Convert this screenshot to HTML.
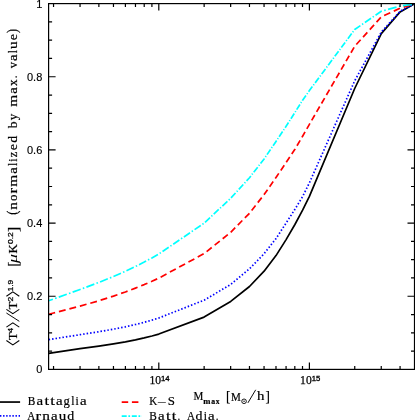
<!DOCTYPE html>
<html><head><meta charset="utf-8"><title>plot</title>
<style>
html,body{margin:0;padding:0;background:#fff;overflow:hidden}
body{width:415px;height:420px;font-family:"Liberation Sans",sans-serif}
svg{display:block;will-change:transform}
</style></head><body>
<svg width="415" height="420" viewBox="0 0 415 420">
<rect width="415" height="420" fill="#fff"/>
<clipPath id="c"><rect x="48.6" y="3.6" width="365.9" height="365.79999999999995"/></clipPath>
<g clip-path="url(#c)">
<path d="M48.60 353.37 L53.54 352.55 L80.05 348.66 L98.87 346.06 L113.46 343.87 L125.39 341.83 L135.47 339.85 L144.21 337.90 L151.91 335.97 L158.80 334.06 L204.10 317.10 L230.70 301.40 L249.50 286.50 L264.10 271.20 L276.00 255.60 L286.10 239.60 L294.90 224.50 L302.60 210.20 L309.40 196.30 L354.70 88.50 L381.30 33.60 L400.10 11.90 L414.50 3.80" fill="none" stroke="#000" stroke-width="1.7" stroke-linejoin="round"/>
<path d="M48.60 339.67 L53.54 338.84 L80.05 334.69 L98.87 331.73 L113.46 329.17 L125.39 326.80 L135.47 324.53 L144.21 322.31 L151.91 320.14 L158.80 318.01 L204.10 300.20 L230.70 284.50 L249.50 268.80 L264.10 253.70 L276.00 238.60 L286.10 223.00 L294.90 209.30 L302.60 196.60 L309.40 182.80 L354.70 80.80 L381.30 32.10 L400.10 11.30 L414.50 3.80" fill="none" stroke="#0000ff" stroke-width="1.7" stroke-linejoin="round" stroke-dasharray="1.5 2.0" stroke-dashoffset="0"/>
<path d="M48.60 314.21 L53.54 313.00 L55.11 312.60 M58.92 311.61 L65.60 309.89 M69.41 308.90 L76.09 307.18 M79.90 306.20 L80.05 306.16 L86.52 304.30 M90.30 303.21 L96.91 301.31 M100.66 300.17 L107.20 298.09 M110.94 296.90 L113.46 296.09 L117.43 294.71 M121.12 293.42 L125.39 291.93 L127.56 291.11 M131.20 289.74 L135.47 288.12 L137.56 287.28 M141.17 285.82 L144.21 284.59 L147.44 283.19 M151.00 281.66 L151.91 281.27 L157.18 278.87 M160.62 277.15 L166.53 273.95 M169.90 272.12 L175.80 268.93 M179.18 267.10 L185.08 263.90 M188.45 262.07 L194.36 258.88 M197.73 257.05 L203.64 253.85 M206.62 251.58 L211.73 247.49 M214.65 245.15 L219.76 241.06 M222.68 238.72 L227.79 234.63 M230.71 232.29 L235.22 227.70 M237.80 225.09 L242.32 220.50 M244.89 217.88 L249.41 213.29 M251.66 210.45 L255.57 205.47 M257.80 202.62 L261.71 197.64 M263.95 194.80 L264.10 194.60 L267.55 189.64 M269.60 186.70 L273.19 181.54 M275.24 178.59 L276.00 177.50 L278.77 173.39 M280.77 170.42 L284.27 165.22 M286.27 162.24 L289.75 157.03 M291.74 154.05 L294.90 149.30 L295.18 148.82 M296.99 145.75 L300.14 140.38 M301.94 137.32 L302.60 136.20 L305.04 131.92 M306.81 128.84 L309.40 124.30 L309.90 123.44 M311.68 120.37 L314.81 114.99 M316.59 111.91 L319.72 106.53 M321.50 103.46 L324.63 98.08 M326.41 95.01 L329.54 89.62 M331.32 86.55 L334.45 81.17 M336.23 78.10 L339.36 72.71 M341.14 69.64 L344.27 64.26 M346.06 61.19 L349.18 55.80 M350.97 52.73 L354.09 47.35 M356.31 44.52 L360.61 39.77 M363.06 37.06 L367.35 32.32 M369.80 29.61 L374.09 24.87 M376.54 22.16 L380.84 17.41 M384.14 15.58 L390.29 12.74 M393.80 11.12 L399.94 8.27 M403.69 7.13 L410.28 5.16 M414.04 4.04 L414.50 3.90" fill="none" stroke="#ff0000" stroke-width="1.7" stroke-linejoin="round"/>
<path d="M48.60 300.77 L52.90 299.23 M55.09 298.44 L56.58 297.91 M58.77 297.12 L66.76 294.25 M68.96 293.46 L70.44 292.93 M72.64 292.14 L80.05 289.48 L80.62 289.27 M82.79 288.46 L84.25 287.91 M86.42 287.09 L94.31 284.13 M96.48 283.31 L97.94 282.76 M100.08 281.92 L107.79 278.80 M109.91 277.94 L111.35 277.36 M113.46 276.50 L113.46 276.50 L120.98 273.21 M123.04 272.30 L124.44 271.69 M126.47 270.76 L133.78 267.31 M135.78 266.35 L137.10 265.68 M139.06 264.69 L144.21 262.08 L146.11 261.06 M148.01 260.03 L149.29 259.34 M151.19 258.31 L151.91 257.92 L157.94 254.47 M159.70 253.36 L160.85 252.59 M162.54 251.44 L168.69 247.26 M170.38 246.11 L171.53 245.33 M173.22 244.18 L179.37 240.00 M181.06 238.85 L182.21 238.07 M183.90 236.93 L190.05 232.74 M191.74 231.59 L192.89 230.82 M194.58 229.67 L200.73 225.49 M202.42 224.34 L203.57 223.56 M205.04 222.32 L210.04 217.62 M211.41 216.33 L212.34 215.45 M213.72 214.16 L218.72 209.46 M220.09 208.17 L221.02 207.30 M222.39 206.01 L227.39 201.31 M228.77 200.02 L229.70 199.14 M231.03 197.84 L235.51 192.95 M236.74 191.61 L237.57 190.71 M238.80 189.37 L243.28 184.48 M244.51 183.14 L245.34 182.23 M246.57 180.89 L249.50 177.70 L250.86 175.95 M251.94 174.56 L252.67 173.62 M253.74 172.24 L257.67 167.18 M258.75 165.80 L259.47 164.86 M260.55 163.47 L264.10 158.90 L264.44 158.41 M265.40 156.99 L266.05 156.03 M267.01 154.61 L270.52 149.45 M271.49 148.04 L272.14 147.08 M273.10 145.66 L276.00 141.40 L276.60 140.50 M277.55 139.08 L278.19 138.12 M279.14 136.70 L282.60 131.53 M283.55 130.11 L284.20 129.15 M285.15 127.73 L286.10 126.30 L288.50 122.53 M289.42 121.10 L290.03 120.13 M290.94 118.71 L294.26 113.50 M295.17 112.07 L295.78 111.10 M296.67 109.67 L299.94 104.45 M300.84 103.02 L301.44 102.05 M302.34 100.62 L302.60 100.20 L305.94 95.48 M306.94 94.07 L307.61 93.12 M308.61 91.71 L309.40 90.60 L312.36 86.61 M313.39 85.21 L314.09 84.27 M315.13 82.87 L318.91 77.78 M319.94 76.38 L320.65 75.43 M321.68 74.03 L325.46 68.94 M326.49 67.54 L327.20 66.60 M328.23 65.20 L332.01 60.11 M333.05 58.71 L333.75 57.76 M334.78 56.36 L338.56 51.27 M339.60 49.87 L340.30 48.93 M341.33 47.53 L345.11 42.44 M346.15 41.04 L346.85 40.09 M347.88 38.69 L351.66 33.60 M352.70 32.20 L353.40 31.26 M354.43 29.86 L354.70 29.50 L360.40 25.60 M362.08 24.45 L363.22 23.67 M364.91 22.52 L371.04 18.32 M372.72 17.17 L373.86 16.39 M375.54 15.24 L381.30 11.30 L381.82 11.16 M384.14 10.51 L385.71 10.08 M388.03 9.44 L396.49 7.10 M398.81 6.46 L400.10 6.10 L400.40 6.05 M402.88 5.67 L411.91 4.30 M414.39 3.92 L414.50 3.90" fill="none" stroke="#00ffff" stroke-width="1.7" stroke-linejoin="round"/>
</g>
<path d="M53.54 369.4 v-3.5 M53.54 3.6 v3.5 M80.05 369.4 v-3.5 M80.05 3.6 v3.5 M98.87 369.4 v-3.5 M98.87 3.6 v3.5 M113.46 369.4 v-3.5 M113.46 3.6 v3.5 M125.39 369.4 v-3.5 M125.39 3.6 v3.5 M135.47 369.4 v-3.5 M135.47 3.6 v3.5 M144.21 369.4 v-3.5 M144.21 3.6 v3.5 M151.91 369.4 v-3.5 M151.91 3.6 v3.5 M158.80 369.4 v-7 M158.80 3.6 v7 M204.14 369.4 v-3.5 M204.14 3.6 v3.5 M230.65 369.4 v-3.5 M230.65 3.6 v3.5 M249.47 369.4 v-3.5 M249.47 3.6 v3.5 M264.06 369.4 v-3.5 M264.06 3.6 v3.5 M275.99 369.4 v-3.5 M275.99 3.6 v3.5 M286.07 369.4 v-3.5 M286.07 3.6 v3.5 M294.81 369.4 v-3.5 M294.81 3.6 v3.5 M302.51 369.4 v-3.5 M302.51 3.6 v3.5 M309.40 369.4 v-7 M309.40 3.6 v7 M354.74 369.4 v-3.5 M354.74 3.6 v3.5 M381.25 369.4 v-3.5 M381.25 3.6 v3.5 M400.07 369.4 v-3.5 M400.07 3.6 v3.5 M48.6 351.11 h3.5 M414.5 351.11 h-3.5 M48.6 332.82 h3.5 M414.5 332.82 h-3.5 M48.6 314.53 h3.5 M414.5 314.53 h-3.5 M48.6 296.24 h7 M414.5 296.24 h-7 M48.6 277.95 h3.5 M414.5 277.95 h-3.5 M48.6 259.66 h3.5 M414.5 259.66 h-3.5 M48.6 241.37 h3.5 M414.5 241.37 h-3.5 M48.6 223.08 h7 M414.5 223.08 h-7 M48.6 204.79 h3.5 M414.5 204.79 h-3.5 M48.6 186.50 h3.5 M414.5 186.50 h-3.5 M48.6 168.21 h3.5 M414.5 168.21 h-3.5 M48.6 149.92 h7 M414.5 149.92 h-7 M48.6 131.63 h3.5 M414.5 131.63 h-3.5 M48.6 113.34 h3.5 M414.5 113.34 h-3.5 M48.6 95.05 h3.5 M414.5 95.05 h-3.5 M48.6 76.76 h7 M414.5 76.76 h-7 M48.6 58.47 h3.5 M414.5 58.47 h-3.5 M48.6 40.18 h3.5 M414.5 40.18 h-3.5 M48.6 21.89 h3.5 M414.5 21.89 h-3.5" stroke="#000" stroke-width="1.2" fill="none"/>
<rect x="48.6" y="3.6" width="365.9" height="365.79999999999995" fill="none" stroke="#000" stroke-width="1.2"/>
<g font-family="Liberation Sans, sans-serif" font-size="11" text-anchor="end" fill="#000" stroke="#000" stroke-width="0.15">
<text x="42.3" y="373.40">0</text>
<text x="42.3" y="300.24">0.2</text>
<text x="42.3" y="227.08">0.4</text>
<text x="42.3" y="153.92">0.6</text>
<text x="42.3" y="80.76">0.8</text>
<text x="42.3" y="7.60">1</text>
</g>
<text x="149.4" y="383.8" font-family="Liberation Serif, serif" font-size="12" textLength="11.6" lengthAdjust="spacingAndGlyphs" stroke="#000" stroke-width="0.25">10</text>
<text x="161.0" y="380.5" font-family="Liberation Sans, sans-serif" font-size="6.6" textLength="8.6" lengthAdjust="spacingAndGlyphs" stroke="#000" stroke-width="0.3">14</text>
<text x="300.09999999999997" y="383.8" font-family="Liberation Serif, serif" font-size="12" textLength="11.6" lengthAdjust="spacingAndGlyphs" stroke="#000" stroke-width="0.25">10</text>
<text x="311.7" y="380.5" font-family="Liberation Sans, sans-serif" font-size="6.6" textLength="8.6" lengthAdjust="spacingAndGlyphs" stroke="#000" stroke-width="0.3">15</text>
<text y="400" font-size="13.0" font-family="Liberation Serif, serif" fill="#000" stroke="#000" stroke-width="0.2"><tspan x="193.59" textLength="9.83" lengthAdjust="spacingAndGlyphs">M</tspan></text>
<text y="403.9" font-size="7.8" font-family="Liberation Serif, serif" fill="#000" stroke="#000" stroke-width="0.2" font-weight="bold"><tspan x="203.24" textLength="7.19" lengthAdjust="spacingAndGlyphs">m</tspan><tspan x="211.17" textLength="3.91" lengthAdjust="spacingAndGlyphs">a</tspan><tspan x="215.84" textLength="3.84" lengthAdjust="spacingAndGlyphs">x</tspan></text>
<text y="400" font-size="13.0" font-family="Liberation Serif, serif" fill="#000" stroke="#000" stroke-width="0.2"><tspan x="225.99" y="400.60" font-size="15.60" textLength="4.42" lengthAdjust="spacingAndGlyphs">[</tspan><tspan x="230.95" textLength="9.83" lengthAdjust="spacingAndGlyphs">M</tspan></text>
<circle cx="244.05" cy="401.3" r="2.3" fill="none" stroke="#000" stroke-width="0.9"/>
<circle cx="244.05" cy="401.3" r="0.7" fill="#000"/>
<path d="M247.9 402.9 L255.7 389.8" stroke="#000" stroke-width="0.95"/>
<text y="400" font-size="13.0" font-family="Liberation Serif, serif" fill="#000" stroke="#000" stroke-width="0.2"><tspan x="256.94" textLength="7.41" lengthAdjust="spacingAndGlyphs">h</tspan><tspan x="265.48" y="400.60" font-size="15.60" textLength="4.42" lengthAdjust="spacingAndGlyphs">]</tspan></text>
<path d="M0 402.05 H20.1" stroke="#000" stroke-width="1.7"/>
<path d="M0 415.8 H20.7" stroke="#0000ff" stroke-width="1.7" stroke-dasharray="1.4 1.7"/>
<path d="M121.7 402.1 H142" stroke="#ff0000" stroke-width="1.7" stroke-dasharray="6.5 3.7"/>
<path d="M121.7 416.1 H142" stroke="#00ffff" stroke-width="1.7" stroke-dasharray="5 1.7 1.7 1.7"/>
<text y="405.0" font-size="13.0" font-family="Liberation Serif, serif" fill="#000" stroke="#000" stroke-width="0.2"><tspan x="27.85" textLength="7.56" lengthAdjust="spacingAndGlyphs">B</tspan><tspan x="36.63" textLength="6.63" lengthAdjust="spacingAndGlyphs">a</tspan><tspan x="44.40" textLength="4.60" lengthAdjust="spacingAndGlyphs">t</tspan><tspan x="50.25" textLength="4.60" lengthAdjust="spacingAndGlyphs">t</tspan><tspan x="56.13" textLength="6.63" lengthAdjust="spacingAndGlyphs">a</tspan><tspan x="63.52" textLength="6.29" lengthAdjust="spacingAndGlyphs">g</tspan><tspan x="71.24" textLength="3.25" lengthAdjust="spacingAndGlyphs">l</tspan><tspan x="75.51" textLength="3.25" lengthAdjust="spacingAndGlyphs">i</tspan><tspan x="79.92" textLength="6.63" lengthAdjust="spacingAndGlyphs">a</tspan></text>
<text y="419.5" font-size="13.0" font-family="Liberation Serif, serif" fill="#000" stroke="#000" stroke-width="0.2"><tspan x="27.22" textLength="7.98" lengthAdjust="spacingAndGlyphs">A</tspan><tspan x="35.54" textLength="5.60" lengthAdjust="spacingAndGlyphs">r</tspan><tspan x="42.16" textLength="7.65" lengthAdjust="spacingAndGlyphs">n</tspan><tspan x="50.96" textLength="6.63" lengthAdjust="spacingAndGlyphs">a</tspan><tspan x="58.69" textLength="7.52" lengthAdjust="spacingAndGlyphs">u</tspan><tspan x="67.36" textLength="6.96" lengthAdjust="spacingAndGlyphs">d</tspan></text>
<text y="405.0" font-size="13.0" font-family="Liberation Serif, serif" fill="#000" stroke="#000" stroke-width="0.2"><tspan x="149.22" textLength="7.98" lengthAdjust="spacingAndGlyphs">K</tspan></text>
<text x="158.08" y="405.3" font-family="Liberation Serif, serif" fill="#000" stroke="#000" stroke-width="0.1" font-size="13.0" textLength="7.68" lengthAdjust="spacingAndGlyphs">&#8211;</text>
<text y="405.0" font-size="13.0" font-family="Liberation Serif, serif" fill="#000" stroke="#000" stroke-width="0.2"><tspan x="167.83" textLength="7.17" lengthAdjust="spacingAndGlyphs">S</tspan></text>
<text y="419.5" font-size="13.0" font-family="Liberation Serif, serif" fill="#000" stroke="#000" stroke-width="0.2"><tspan x="149.35" textLength="7.56" lengthAdjust="spacingAndGlyphs">B</tspan><tspan x="158.13" textLength="6.63" lengthAdjust="spacingAndGlyphs">a</tspan><tspan x="165.90" textLength="4.60" lengthAdjust="spacingAndGlyphs">t</tspan><tspan x="171.75" textLength="4.60" lengthAdjust="spacingAndGlyphs">t</tspan><tspan x="177.57" textLength="2.76" lengthAdjust="spacingAndGlyphs">.</tspan> <tspan x="187.04" textLength="7.98" lengthAdjust="spacingAndGlyphs">A</tspan><tspan x="195.59" textLength="6.96" lengthAdjust="spacingAndGlyphs">d</tspan><tspan x="203.64" textLength="3.25" lengthAdjust="spacingAndGlyphs">i</tspan><tspan x="208.05" textLength="6.63" lengthAdjust="spacingAndGlyphs">a</tspan><tspan x="215.79" textLength="2.76" lengthAdjust="spacingAndGlyphs">.</tspan></text>
<g transform="translate(16.9 0) rotate(-90)">
<path d="M-340.5 -10.5 L-344.9 -4.05 L-340.5 2.4" fill="none" stroke="#000" stroke-width="1.05"/>
<text x="-340.23" y="0" font-family="Liberation Serif, serif" fill="#000" stroke="#000" stroke-width="0.2" font-size="13.0" >T</text>
<text x="-332.8" y="-3.6" font-family="Liberation Sans, sans-serif" font-size="7.6" textLength="4.90" lengthAdjust="spacingAndGlyphs" stroke="#000" stroke-width="0.25">4</text>
<path d="M-327.1 -10.5 L-322.9 -4.05 L-327.1 2.4" fill="none" stroke="#000" stroke-width="1.05"/>
<path d="M-321.3 2.4 L-313.0 -10.5" stroke="#000" stroke-width="0.95"/>
<path d="M-309.4 -10.5 L-313.7 -4.05 L-309.4 2.4" fill="none" stroke="#000" stroke-width="1.05"/>
<text x="-309.43" y="0" font-family="Liberation Serif, serif" fill="#000" stroke="#000" stroke-width="0.2" font-size="13.0" >T</text>
<text x="-301.5" y="-3.6" font-family="Liberation Sans, sans-serif" font-size="7.6" textLength="4.80" lengthAdjust="spacingAndGlyphs" stroke="#000" stroke-width="0.25">2</text>
<path d="M-296.3 -10.5 L-291.8 -4.05 L-296.3 2.4" fill="none" stroke="#000" stroke-width="1.05"/>
<text x="-291.6" y="-3.6" font-family="Liberation Sans, sans-serif" font-size="7.6" textLength="11.80" lengthAdjust="spacingAndGlyphs" stroke="#000" stroke-width="0.25">1.9</text>
<text x="-266.75" y="0.6" font-family="Liberation Serif, serif" fill="#000" stroke="#000" stroke-width="0.2" font-size="15.6" >[</text>
<text x="-263.0" y="0" font-family="Liberation Serif, serif" font-size="13" textLength="9.00" lengthAdjust="spacingAndGlyphs" font-style="italic">&#956;</text>
<text x="-253.48" y="0" font-family="Liberation Serif, serif" fill="#000" stroke="#000" stroke-width="0.2" font-size="13.0" >K</text>
<text x="-244.0" y="-3.6" font-family="Liberation Sans, sans-serif" font-size="7.6" textLength="11.80" lengthAdjust="spacingAndGlyphs" stroke="#000" stroke-width="0.25">0.2</text>
<text x="-231.96" y="0.6" font-family="Liberation Serif, serif" fill="#000" stroke="#000" stroke-width="0.2" font-size="15.6" >]</text>
<text y="0" font-size="13.0" font-family="Liberation Serif, serif" fill="#000" stroke="#000" stroke-width="0.2"><tspan x="-214.85" y="0.20" font-size="14.30" textLength="4.05" lengthAdjust="spacingAndGlyphs">(</tspan><tspan x="-209.81" textLength="7.65" lengthAdjust="spacingAndGlyphs">n</tspan><tspan x="-200.99" textLength="6.50" lengthAdjust="spacingAndGlyphs">o</tspan><tspan x="-193.42" textLength="5.60" lengthAdjust="spacingAndGlyphs">r</tspan><tspan x="-186.77" textLength="11.92" lengthAdjust="spacingAndGlyphs">m</tspan><tspan x="-173.71" textLength="6.63" lengthAdjust="spacingAndGlyphs">a</tspan><tspan x="-166.01" textLength="3.25" lengthAdjust="spacingAndGlyphs">l</tspan><tspan x="-161.74" textLength="3.25" lengthAdjust="spacingAndGlyphs">i</tspan><tspan x="-157.14" textLength="5.39" lengthAdjust="spacingAndGlyphs">z</tspan><tspan x="-150.33" textLength="6.14" lengthAdjust="spacingAndGlyphs">e</tspan><tspan x="-142.88" textLength="6.96" lengthAdjust="spacingAndGlyphs">d</tspan> <tspan x="-128.34" textLength="6.81" lengthAdjust="spacingAndGlyphs">b</tspan><tspan x="-120.31" textLength="6.50" lengthAdjust="spacingAndGlyphs">y</tspan> <tspan x="-106.82" textLength="11.92" lengthAdjust="spacingAndGlyphs">m</tspan><tspan x="-93.76" textLength="6.63" lengthAdjust="spacingAndGlyphs">a</tspan><tspan x="-85.95" textLength="6.56" lengthAdjust="spacingAndGlyphs">x</tspan><tspan x="-78.22" textLength="2.76" lengthAdjust="spacingAndGlyphs">.</tspan> <tspan x="-68.28" textLength="6.29" lengthAdjust="spacingAndGlyphs">v</tspan><tspan x="-61.00" textLength="6.63" lengthAdjust="spacingAndGlyphs">a</tspan><tspan x="-53.30" textLength="3.25" lengthAdjust="spacingAndGlyphs">l</tspan><tspan x="-48.98" textLength="7.52" lengthAdjust="spacingAndGlyphs">u</tspan><tspan x="-40.35" textLength="6.14" lengthAdjust="spacingAndGlyphs">e</tspan><tspan x="-32.96" y="0.20" font-size="14.30" textLength="4.05" lengthAdjust="spacingAndGlyphs">)</tspan></text>
</g>
</svg>
</body></html>
